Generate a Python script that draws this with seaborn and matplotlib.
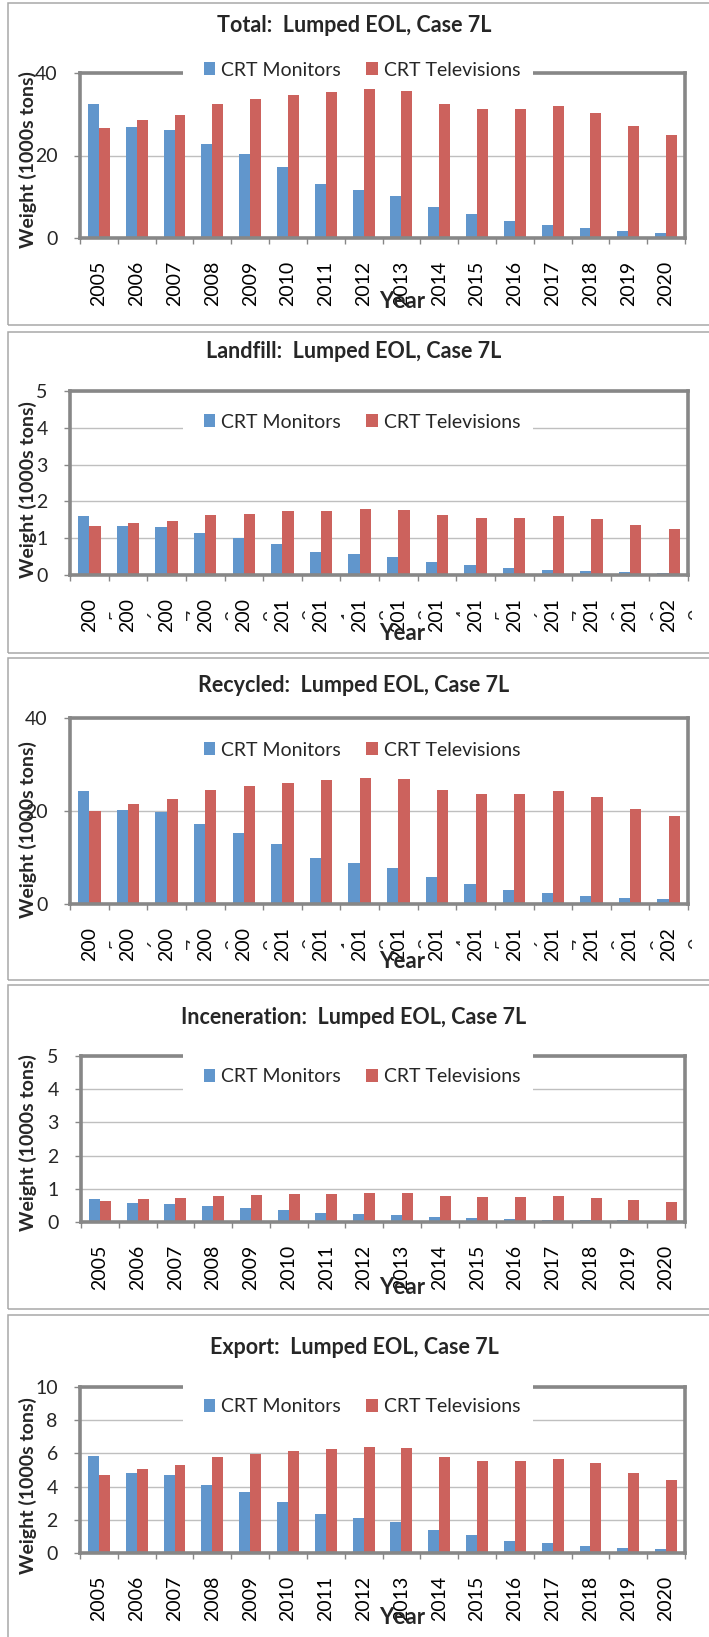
#%%
#  Importing Libraries

import numpy as np
import pandas as pd
import matplotlib
matplotlib.use('Agg')
import matplotlib.pyplot as plt
from matplotlib.patches import Rectangle
import seaborn as sns

#%%
#  Data (1000s tons)

years = ['2005', '2006', '2007', '2008', '2009', '2010', '2011', '2012',
         '2013', '2014', '2015', '2016', '2017', '2018', '2019', '2020']

total_monitors = [32.4, 26.8, 26.2, 22.9, 20.3, 17.2, 13.1, 11.6,
                  10.1, 7.6, 5.8, 4.1, 3.2, 2.4, 1.7, 1.3]
total_tvs = [26.7, 28.6, 29.9, 32.5, 33.7, 34.6, 35.3, 36.1,
             35.6, 32.5, 31.3, 31.2, 32.0, 30.4, 27.2, 25.0]

landfill_monitors = [1.61, 1.33, 1.30, 1.13, 1.00, 0.84, 0.63, 0.56,
                     0.49, 0.36, 0.27, 0.18, 0.14, 0.10, 0.07, 0.05]
landfill_tvs = [1.32, 1.42, 1.47, 1.62, 1.67, 1.73, 1.75, 1.80,
                1.77, 1.62, 1.56, 1.55, 1.59, 1.52, 1.35, 1.24]

recycled_monitors = [24.3, 20.2, 19.7, 17.2, 15.3, 12.9, 9.8, 8.8,
                     7.7, 5.7, 4.4, 3.0, 2.4, 1.8, 1.3, 1.0]
recycled_tvs = [20.0, 21.6, 22.5, 24.6, 25.4, 26.1, 26.6, 27.2,
                26.9, 24.6, 23.6, 23.6, 24.2, 23.1, 20.5, 18.9]

incin_monitors = [0.68, 0.57, 0.55, 0.49, 0.43, 0.36, 0.28, 0.25,
                  0.22, 0.16, 0.13, 0.09, 0.07, 0.06, 0.05, 0.04]
incin_tvs = [0.64, 0.69, 0.72, 0.79, 0.81, 0.84, 0.85, 0.87,
             0.86, 0.79, 0.75, 0.75, 0.77, 0.73, 0.66, 0.60]

export_monitors = [5.82, 4.82, 4.72, 4.12, 3.65, 3.09, 2.37, 2.11,
                   1.85, 1.41, 1.06, 0.74, 0.60, 0.44, 0.32, 0.26]
export_tvs = [4.72, 5.08, 5.30, 5.78, 5.96, 6.14, 6.24, 6.41,
              6.31, 5.78, 5.54, 5.52, 5.66, 5.40, 4.82, 4.42]

titles = ['Total:  Lumped EOL, Case 7L',
          'Landfill:  Lumped EOL, Case 7L',
          'Recycled:  Lumped EOL, Case 7L',
          'Inceneration:  Lumped EOL, Case 7L',
          'Export:  Lumped EOL, Case 7L']

series_names = ['CRT Monitors', 'CRT Televisions']
y_ticks = [[0, 20, 40], [0, 1, 2, 3, 4, 5], [0, 20, 40],
           [0, 1, 2, 3, 4, 5], [0, 2, 4, 6, 8, 10]]

#%%
#  Layout (pixels in a 709x1637 canvas)

W, H = 709, 1637
BLUE = '#6196CC'
RED = '#CC625D'
BORDER = '#878787'
GRID = '#BFBFBF'

# frame top, frame bottom, ax left, ax right, ax top, ax bottom,
# title y, legend y, ylabel y, "Year" y, truncated labels?
layout = [
    (3, 325, 80, 685, 73, 238, 25, 70, 160, 301, False),
    (332, 653, 70, 688, 391, 575, 352, 422, 490, 634, True),
    (658, 980, 70, 688, 718, 904, 685, 750, 830, 962, True),
    (985, 1309, 81, 685, 1056, 1222, 1017, 1077, 1143, 1287, False),
    (1315, 1660, 80, 685, 1387, 1553, 1348, 1407, 1486, 1617, False),
]

panel_data = [(total_monitors, total_tvs), (landfill_monitors, landfill_tvs),
              (recycled_monitors, recycled_tvs), (incin_monitors, incin_tvs),
              (export_monitors, export_tvs)]


def fx(px):
    return px / W


def fy(py):
    return 1 - py / H


sns.set_style('white')
plt.rcParams['font.family'] = ['Lato', 'DejaVu Sans']

fig = plt.figure(figsize=(W / 100, H / 100), dpi=100)

for k, (mon, tv) in enumerate(panel_data):
    (f_top, f_bot, left, right, top, bot,
     t_y, leg_y, yl_y, year_y, truncated) = layout[k]

    # outer chart frame
    fig.add_artist(Rectangle((fx(8), fy(f_bot)), fx(730) - fx(8),
                             (f_bot - f_top) / H, transform=fig.transFigure,
                             fill=False, edgecolor='#A8A8A8', lw=1.1,
                             zorder=-1))

    ax = fig.add_axes([fx(left), fy(bot), (right - left) / W, (bot - top) / H])
    df = pd.DataFrame({'Year': years * 2,
                       'Weight': list(mon) + list(tv),
                       'Type': [series_names[0]] * len(years)
                       + [series_names[1]] * len(years)})
    sns.barplot(data=df, x='Year', y='Weight', hue='Type',
                palette=[BLUE, RED], width=0.58, saturation=1,
                linewidth=0, ax=ax)

    handles, labels = ax.get_legend_handles_labels()
    if ax.get_legend() is not None:
        ax.get_legend().remove()

    ax.set_xlim(-0.5, len(years) - 0.5)
    ax.set_ylim(0, y_ticks[k][-1])
    ax.set_yticks(y_ticks[k])
    ax.set_xlabel('')
    ax.set_ylabel('')
    ax.set_axisbelow(True)
    ax.yaxis.grid(True, color=GRID, lw=1.0)
    ax.xaxis.grid(False)
    for sp in ax.spines.values():
        sp.set_visible(True)
        sp.set_color(BORDER)
        sp.set_linewidth(2.6)

    ax.set_xticks(range(len(years)))
    if truncated:
        ax.set_xticklabels([y[:3] for y in years])
    else:
        ax.set_xticklabels(years)
    ax.set_xticks(np.arange(-0.5, len(years), 1), minor=True)
    ax.tick_params(axis='x', which='major', length=0, pad=16.5,
                   labelsize=14, labelrotation=90, colors='black')
    ax.tick_params(axis='x', which='minor', length=4, width=1,
                   color=BORDER, direction='out', bottom=True)
    ax.tick_params(axis='y', length=4, width=1, color=BORDER,
                   direction='out', pad=12, labelsize=14, left=True)

    # Excel wrapped the year labels; only a sliver of the last digit shows
    if truncated:
        step = (right - left) / len(years)
        yc = bot + 39
        for i, y in enumerate(years):
            cx = left + (i + 0.5) * step
            t = fig.text(fx(cx + 28), fy(yc), y[3], rotation=90,
                         ha='center', va='center', fontsize=14)
            clip = Rectangle((fx(cx + 19), fy(yc + 12)), 4 / W, 24 / H,
                             transform=fig.transFigure)
            t.set_clip_path(clip)

    # white legend box cutting the plot border / gridline
    fig.add_artist(Rectangle((fx(183), fy(leg_y + 15)), (533 - 183) / W,
                             43 / H, transform=fig.transFigure,
                             facecolor='white', edgecolor='none', zorder=3))
    fig.legend(handles, labels, loc='center',
               bbox_to_anchor=(fx(362), fy(leg_y)), ncol=2, frameon=False,
               fontsize=14, handlelength=0.6, handleheight=0.6,
               handletextpad=0.3, columnspacing=1.3, borderpad=0)

    fig.text(fx(354), fy(t_y), titles[k], ha='center', va='center',
             fontsize=15.5, fontweight='bold')
    fig.text(fx(28), fy(yl_y), 'Weight (1000s tons)', rotation=90,
             ha='center', va='center', fontsize=14, fontweight='bold')
    fig.text(fx(402), fy(year_y), 'Year', ha='center', va='center',
             fontsize=16, fontweight='bold', zorder=4)

fig.savefig('out.png', dpi=100, facecolor='white')
